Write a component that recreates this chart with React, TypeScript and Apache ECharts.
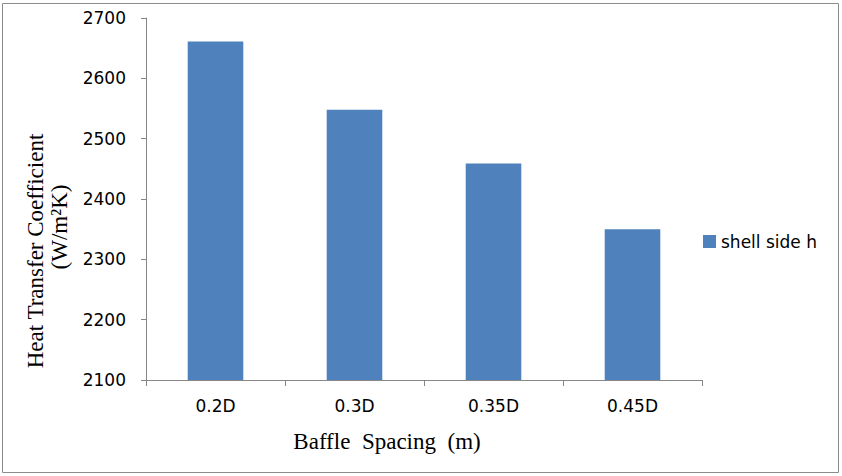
import React, { useEffect, useRef } from "react";
import * as echarts from "echarts";

const categories = ["0.2D", "0.3D", "0.35D", "0.45D"];
const shellSideH = [2661, 2548, 2459, 2350];
const yTicks = { min: 2100, max: 2700, step: 100 };
const seriesName = "shell side h";
const xTitle = "Baffle  Spacing  (m)";
const yTitle1 = "Heat Transfer Coefficient";
const yTitle2 = "(W/m²K)";

export default function App() {
  const ref = useRef<HTMLDivElement>(null);
  useEffect(() => {
    document.body.style.margin = "0";
    const chart = echarts.init(ref.current!, null, { renderer: "svg" });
    const axisColor = "#868686";
    const labelFont = "DejaVu Sans";
    const serif = "Liberation Serif";
    chart.setOption({
      animation: false,
      backgroundColor: "#ffffff",
      grid: { left: 146, top: 18, right: 140, bottom: 96, containLabel: false },
      legend: {
        data: [seriesName],
        left: 698,
        top: 228,
        icon: "rect",
        itemWidth: 13,
        itemHeight: 13,
        itemGap: 5,
        textStyle: { fontFamily: labelFont, fontSize: 17, color: "#000" },
      },
      xAxis: {
        type: "category",
        data: categories,
        axisLine: { show: true, lineStyle: { color: axisColor, width: 1 } },
        axisTick: { show: true, alignWithLabel: false, length: 6, lineStyle: { color: axisColor } },
        axisLabel: { fontFamily: labelFont, fontSize: 17, color: "#000", margin: 17 },
        splitLine: { show: false },
      },
      yAxis: {
        type: "value",
        min: yTicks.min,
        max: yTicks.max,
        interval: yTicks.step,
        axisLine: { show: true, lineStyle: { color: axisColor, width: 1 } },
        axisTick: { show: true, inside: false, length: 5, lineStyle: { color: axisColor } },
        axisLabel: {
          fontFamily: labelFont,
          fontSize: 17,
          color: "#000",
          margin: 20,
          formatter: (v: number) => String(v),
        },
        splitLine: { show: false },
      },
      series: [
        {
          name: seriesName,
          type: "bar",
          data: shellSideH,
          barWidth: "40%",
          itemStyle: { color: "#4F81BD" },
        },
      ],
      graphic: [
        {
          type: "rect",
          shape: { x: 2.5, y: 3.5, width: 836, height: 469 },
          style: { fill: "none", stroke: "#8c8c8c", lineWidth: 1 },
          silent: true,
        },
        {
          type: "text",
          x: 387,
          y: 441,
          style: {
            text: xTitle,
            fontFamily: serif,
            fontSize: 23,
            fill: "#000",
            textAlign: "center",
            textVerticalAlign: "middle",
          },
        },
        {
          type: "text",
          x: 35,
          y: 251,
          rotation: Math.PI / 2,
          style: {
            text: yTitle1,
            fontFamily: serif,
            fontSize: 23,
            fill: "#000",
            textAlign: "center",
            textVerticalAlign: "middle",
          },
        },
        {
          type: "text",
          x: 59,
          y: 227,
          rotation: Math.PI / 2,
          style: {
            text: yTitle2,
            fontFamily: serif,
            fontSize: 23,
            fill: "#000",
            textAlign: "center",
            textVerticalAlign: "middle",
          },
        },
      ],
    });
    return () => chart.dispose();
  }, []);
  return <div ref={ref} style={{ width: 842, height: 476 }} />;
}
